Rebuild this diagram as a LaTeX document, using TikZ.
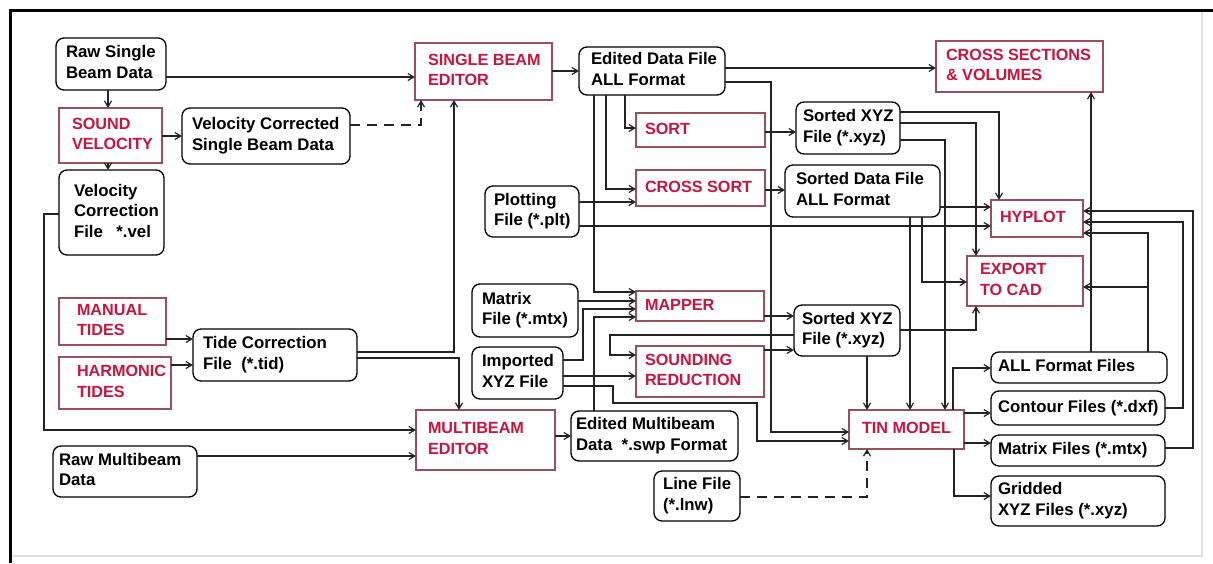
\documentclass[tikz,border=0pt]{standalone}
\usepackage{fontspec}
\setmainfont{Liberation Sans}
\usetikzlibrary{arrows.meta}
\definecolor{redtxt}{RGB}{196,22,62}
\definecolor{redbox}{RGB}{150,82,92}
\definecolor{ln}{RGB}{35,35,35}
\newcommand\bx[8]{%
  \pgfmathsetmacro\bxw{#5-#3-2*#7}%
  \pgfmathsetmacro\bxh{#6-#4}%
  \node[#1, inner xsep=#7pt, minimum height=\bxh pt] (#2) at (#3,#4)
    {\makebox[\bxw pt][l]{\begin{tabular}{@{}l@{}}#8\end{tabular}}};}
\tikzset{
  filebox/.style={draw=black, line width=1.3pt, rounded corners=8pt, anchor=north west, outer sep=0pt, inner ysep=0pt, font=\fontsize{16.8}{20.5}\selectfont\bfseries, text=black, fill=white},
  procbox/.style={draw=redbox, line width=1.3pt, anchor=north west, outer sep=0pt, inner ysep=0pt, font=\fontsize{16.2}{20.5}\selectfont\bfseries, text=redtxt, fill=white},
  conn/.style={draw=ln, line width=1.2pt, -{Straight Barb[length=6pt,width=7pt]}},
  dconn/.style={conn, dash pattern=on 10pt off 7pt},
}
\begin{document}
\begin{tikzpicture}[x=1pt,y=-1pt]
\useasboundingbox (0,0) rectangle (1213,563);
\fill[white] (0,0) rectangle (1213,563);
% frame
\draw[black!12, line width=1.5pt] (10,556) -- (1202,556) -- (1202,10);
\draw[black, line width=3pt] (10,563) -- (10,10) -- (1213,10);
% boxes
\bx{filebox}{rsbd}{56}{38}{166}{90}{10}{Raw Single\\Beam Data}
\bx{procbox}{sv}{59}{108}{162}{163}{13}{SOUND\\VELOCITY}
\bx{filebox}{vc}{182}{108}{350}{164}{10}{Velocity Corrected\\Single Beam Data}
\bx{filebox}{vcf}{59}{170}{164}{255}{15}{Velocity\\Correction\\File\hspace{0.8em}*.vel}
\bx{procbox}{mt}{59}{298}{166}{345}{18}{MANUAL\\TIDES}
\bx{procbox}{ht}{59}{357}{171}{409}{18}{HARMONIC\\TIDES}
\bx{filebox}{tcf}{193}{329}{357}{381}{10}{Tide Correction\\File\ \ (*.tid)}
\bx{procbox}{sbe}{415}{43}{552}{100}{13}{SINGLE BEAM\\EDITOR}
\bx{filebox}{edf}{579}{47}{725}{95}{12}{Edited Data File\\ALL Format}
\bx{procbox}{cs}{936}{41}{1103}{92}{10}{CROSS SECTIONS\\\& VOLUMES}
\bx{procbox}{sort}{636}{113}{765}{147}{9}{SORT}
\bx{filebox}{sxa}{796}{102}{900}{154}{7}{Sorted XYZ\\File (*.xyz)}
\bx{procbox}{csort}{636}{170}{765}{206}{9}{CROSS SORT}
\bx{filebox}{sdf}{785}{165}{940}{217}{11}{Sorted Data File\\ALL Format}
\bx{filebox}{plt}{485}{186}{579}{237}{9}{Plotting\\File (*.plt)}
\bx{procbox}{hyplot}{991}{200}{1083}{237}{9}{HYPLOT}
\bx{procbox}{export}{967}{256}{1083}{306}{13}{EXPORT\\TO CAD}
\bx{filebox}{mtx}{472}{284}{578}{337}{10}{Matrix\\File (*.mtx)}
\bx{procbox}{mapper}{636}{291}{764}{321}{9}{MAPPER}
\bx{filebox}{sxb}{794}{305}{900}{356}{8}{Sorted XYZ\\File (*.xyz)}
\bx{filebox}{imp}{472}{347}{563}{399}{10}{Imported\\XYZ File}
\bx{procbox}{snd}{636}{346}{764}{397}{9}{SOUNDING\\REDUCTION}
\bx{procbox}{mbe}{416}{410}{555}{470}{12}{MULTIBEAM\\EDITOR}
\bx{filebox}{emd}{571}{411}{738}{461}{5}{Edited Multibeam\\Data\ \ *.swp Format}
\bx{filebox}{rmd}{53}{446}{197}{497}{6}{Raw Multibeam\\Data}
\bx{filebox}{lnw}{654}{471}{740}{521}{9}{Line File\\(*.lnw)}
\bx{procbox}{tin}{849}{410}{964}{449}{13}{TIN MODEL}
\bx{filebox}{allf}{991}{352}{1167}{383}{7}{ALL Format Files}
\bx{filebox}{cont}{991}{391}{1165}{425}{7}{Contour Files (*.dxf)}
\bx{filebox}{mxf}{991}{435}{1165}{466}{7}{Matrix Files (*.mtx)}
\bx{filebox}{grid}{991}{476}{1165}{526}{7}{Gridded\\XYZ Files (*.xyz)}
% connectors
\draw[conn] (rsbd.east |- 0,77) -- (sbe.west |- 0,77);
\draw[conn] (rsbd.south -| 108,0) -- (sv.north -| 108,0);
\draw[conn] (sv.east |- 0,136) -- (vc.west |- 0,136);
\draw[conn] (sv.south -| 108,0) -- (vcf.north -| 108,0);
\draw[dconn] (vc.east |- 0,125) -| (sbe.south -| 421,0);
\draw[conn] (vcf.west |- 0,214) -- (44,214) |- (mbe.west |- 0,430);
\draw[conn] (rmd.east |- 0,456) -- (mbe.west |- 0,456);
\draw[conn] (mt.east |- 0,339) -- (tcf.west |- 0,339);
\draw[conn] (ht.east |- 0,365) -- (tcf.west |- 0,365);
\draw[conn] (tcf.east |- 0,352) -| (sbe.south -| 454,0);
\draw[conn] (tcf.east |- 0,358) -| (mbe.north -| 459,0);
\draw[conn] (sbe.east |- 0,71) -- (edf.west |- 0,71);
\draw[conn] (edf.east |- 0,68) -- (cs.west |- 0,68);
\draw[conn] (edf.south -| 625,0) |- (sort.west |- 0,128);
\draw[conn] (edf.south -| 606,0) |- (csort.west |- 0,189);
\draw[conn] (edf.south -| 594,0) |- (mapper.west |- 0,292);
\draw[conn] (edf.east |- 0,82) -- (771,82) |- (tin.west |- 0,432);
\draw[conn] (sort.east |- 0,132) -- (sxa.west |- 0,132);
\draw[conn] (csort.east |- 0,190) -- (sdf.west |- 0,190);
\draw[conn] (plt.east |- 0,202) -- (csort.west |- 0,202);
\draw[conn] (plt.east |- 0,226) -- (hyplot.west |- 0,226);
\draw[conn] (sdf.east |- 0,207) -- (hyplot.west |- 0,207);
\draw[conn] (sdf.south -| 910,0) -- (tin.north -| 910,0);
\draw[conn] (sdf.south -| 922,0) |- (export.west |- 0,282);
\draw[conn] (sxa.east |- 0,112) -| (hyplot.north -| 999,0);
\draw[conn] (sxa.east |- 0,123) -| (export.north -| 976,0);
\draw[conn] (sxa.east |- 0,140) -| (tin.north -| 945,0);
\draw[conn] (mtx.east |- 0,301) -- (mapper.west |- 0,301);
\draw[conn] (imp.east |- 0,360) -- (583,360) |- (mapper.west |- 0,309);
\draw[conn] (emd.north -| 594,0) |- (mapper.west |- 0,317);
\draw[conn] (mapper.east |- 0,316) -- (sxb.west |- 0,316);
\draw[conn] (sxb.west |- 0,335) -- (610,335) |- (snd.west |- 0,355);
\draw[conn] (snd.east |- 0,350) -- (sxb.west |- 0,350);
\draw[conn] (imp.east |- 0,376) -- (snd.west |- 0,376);
\draw[conn] (imp.east |- 0,386) -- (613,386) -- (613,403) -- (757,403) |- (tin.west |- 0,441);
\draw[conn] (sxb.south -| 867,0) -- (tin.north -| 867,0);
\draw[conn] (sxb.east |- 0,330) -| (export.south -| 976,0);
\draw[conn] (mbe.east |- 0,436) -- (emd.west |- 0,436);
\draw[dconn] (lnw.east |- 0,497) -| (tin.south -| 867,0);
\draw[conn] (tin.north -| 953,0) |- (allf.west |- 0,368);
\draw[conn] (tin.east |- 0,413) -- (cont.west |- 0,413);
\draw[conn] (tin.east |- 0,443) -- (mxf.west |- 0,443);
\draw[conn] (tin.south -| 954,0) |- (grid.west |- 0,496);
\draw[conn] (allf.north -| 1091,0) -- (cs.south -| 1091,0);
\draw[conn] (allf.north -| 1148,0) |- (hyplot.east |- 0,233);
\draw[conn] (allf.north -| 1148,0) |- (export.east |- 0,287);
\draw[conn] (cont.east |- 0,408) -- (1183,408) |- (hyplot.east |- 0,222);
\draw[conn] (mxf.east |- 0,448) -- (1193,448) |- (hyplot.east |- 0,211);
\end{tikzpicture}
\end{document}
